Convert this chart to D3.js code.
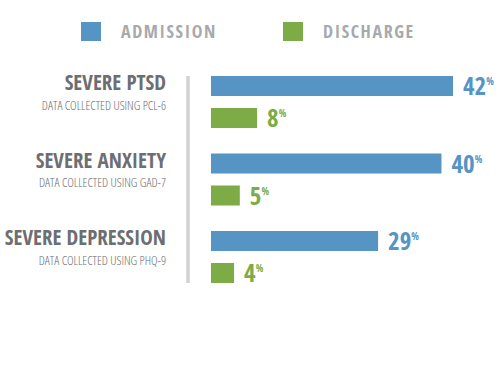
<!DOCTYPE html>
<html>
<head>
<meta charset="utf-8">
<script src="https://cdn.jsdelivr.net/npm/d3@7"></script>
<style>
  body { margin: 0; background: #fff; }
  text { font-family: 'Open Sans Condensed', 'Liberation Sans Narrow', 'DejaVu Sans Condensed', 'Open Sans', sans-serif; font-stretch: condensed; }
  text.sub { font-family: 'Open Sans', 'Liberation Sans Narrow', sans-serif; font-stretch: condensed; }
</style>
</head>
<body>
<div id="chart"></div>
<script>
var categories = ['SEVERE PTSD', 'SEVERE ANXIETY', 'SEVERE DEPRESSION']
var subtitles = ['DATA COLLECTED USING PCL-6', 'DATA COLLECTED USING GAD-7', 'DATA COLLECTED USING PHQ-9']
var series = ['ADMISSION', 'DISCHARGE']
var admission = [42, 40, 29]
var discharge = [8, 5, 4]

var width = 500
var height = 375

var svg = d3
  .select('#chart')
  .append('svg')
  .attr('width', width)
  .attr('height', height)

var colorScale = d3.scaleOrdinal().domain(series).range(['#5694c4', '#7dab45'])

var yPositionScale = d3.scaleBand().domain(categories).range([76, 308.5])
var innerScale = d3.scalePoint().domain(series).range([0, 32])
var xPositionScale = d3.scaleLinear().domain([0, 42]).range([211, 453])
var barHeight = 20

var datapoints = categories.map(function(c, i) {
  return { category: c, subtitle: subtitles[i], values: [admission[i], discharge[i]] }
})

// legend
var legend = svg
  .selectAll('.legend')
  .data(series)
  .enter()
  .append('g')
  .attr('transform', (d, i) => `translate(${[81, 283][i]}, 22)`)

legend
  .append('rect')
  .attr('width', 20)
  .attr('height', 19)
  .attr('fill', d => colorScale(d))

legend
  .append('text')
  .attr('x', 40)
  .attr('y', 16)
  .attr('fill', '#a7a9ac')
  .attr('font-size', 18)
  .attr('font-weight', 'bold')
  .attr('letter-spacing', 1.6)
  .text(d => d)

// divider
svg
  .append('line')
  .attr('x1', 188)
  .attr('x2', 188)
  .attr('y1', yPositionScale(categories[0]))
  .attr('y2', yPositionScale(categories[2]) + innerScale('DISCHARGE') + barHeight)
  .attr('stroke', '#d1d2d4')
  .attr('stroke-width', 3.5)

var groups = svg
  .selectAll('.group')
  .data(datapoints)
  .enter()
  .append('g')
  .attr('transform', d => `translate(0, ${yPositionScale(d.category)})`)

groups
  .append('text')
  .attr('x', 166)
  .attr('y', 14)
  .attr('text-anchor', 'end')
  .attr('fill', '#6d6e71')
  .attr('font-size', 21)
  .attr('font-weight', 'bold')
  .text(d => d.category)

groups
  .append('text')
  .attr('class', 'sub')
  .attr('x', 166)
  .attr('y', 33.5)
  .attr('text-anchor', 'end')
  .attr('fill', '#6d6e71')
  .attr('font-size', 12.5)
  .attr('font-weight', 300)
  .text(d => d.subtitle)

groups.each(function(d) {
  var g = d3.select(this)
  var bars = d.values.map((v, i) => ({ key: series[i], value: v }))

  g.selectAll('rect')
    .data(bars)
    .enter()
    .append('rect')
    .attr('x', xPositionScale(0))
    .attr('y', b => innerScale(b.key))
    .attr('width', b => xPositionScale(b.value) - xPositionScale(0))
    .attr('height', barHeight)
    .attr('fill', b => colorScale(b.key))

  var labels = g
    .selectAll('.label')
    .data(bars)
    .enter()
    .append('text')
    .attr('class', 'label')
    .attr('x', b => xPositionScale(b.value) + 10)
    .attr('y', b => innerScale(b.key) + 19)
    .attr('fill', b => colorScale(b.key))
    .attr('font-size', 25)
    .attr('font-weight', 'bold')

  labels.append('tspan').text(b => b.value)
  labels
    .append('tspan')
    .attr('class', 'sub')
    .attr('font-size', 10)
    .attr('font-weight', 300)
    .attr('dy', -10)
    .text('%')
})
</script>
</body>
</html>
